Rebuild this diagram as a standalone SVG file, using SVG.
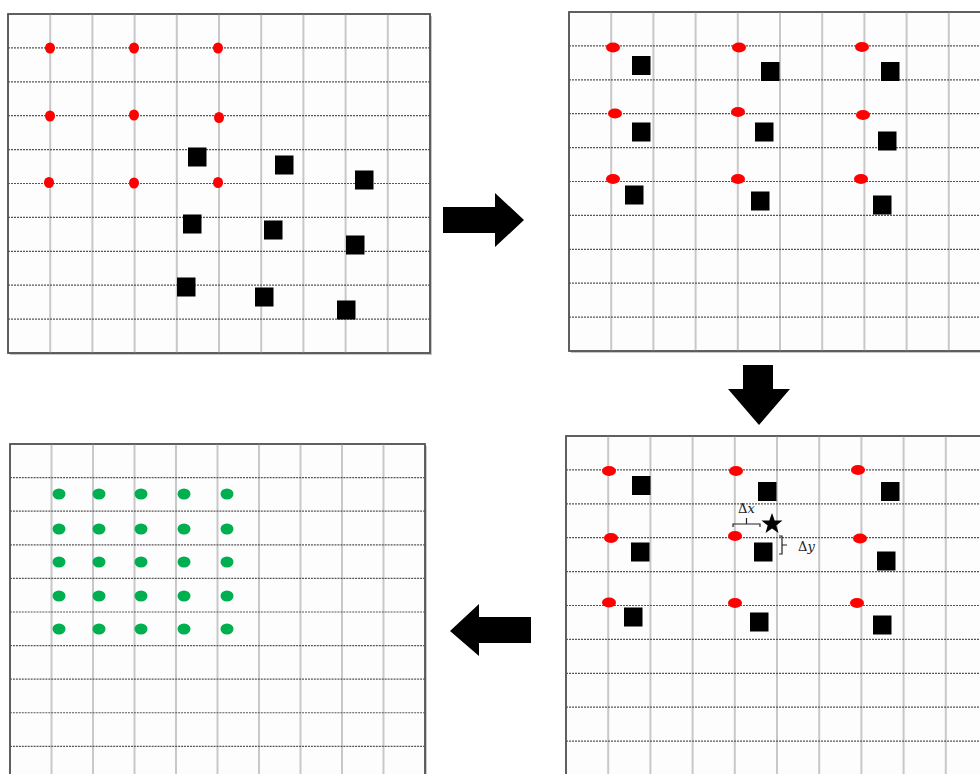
<svg xmlns="http://www.w3.org/2000/svg" xmlns:xlink="http://www.w3.org/1999/xlink" width="980" height="774" viewBox="0 0 980 774">
<style>
.frame{fill:#fdfdfd;stroke:#555;stroke-width:1.5}
.shadow{fill:#999;opacity:0.55}
.v{stroke:#c8c8c8;stroke-width:2}
.h{stroke:#555;stroke-width:1.2;stroke-dasharray:2 1}
.rd{fill:#ff0000}
.sq{fill:#000}
.gd{fill:#00b050}
.arrow{fill:#000}
.br{fill:none;stroke:#222;stroke-width:1.2}
.lbl{font-family:"DejaVu Serif","Liberation Serif",serif;font-size:13px;fill:#222}
</style>
<defs>
<g id="grid">
<rect class="shadow" x="2" y="2" width="422" height="339"/>
<rect class="frame" x="0" y="0" width="422" height="339"/>
<g class="v">
<line x1="42.2" y1="0" x2="42.2" y2="339"/><line x1="84.4" y1="0" x2="84.4" y2="339"/><line x1="126.6" y1="0" x2="126.6" y2="339"/><line x1="168.8" y1="0" x2="168.8" y2="339"/><line x1="211" y1="0" x2="211" y2="339"/><line x1="253.2" y1="0" x2="253.2" y2="339"/><line x1="295.4" y1="0" x2="295.4" y2="339"/><line x1="337.6" y1="0" x2="337.6" y2="339"/><line x1="379.8" y1="0" x2="379.8" y2="339"/>
</g>
<g class="h">
<line x1="0" y1="33.9" x2="422" y2="33.9"/><line x1="0" y1="67.8" x2="422" y2="67.8"/><line x1="0" y1="101.7" x2="422" y2="101.7"/><line x1="0" y1="135.6" x2="422" y2="135.6"/><line x1="0" y1="169.5" x2="422" y2="169.5"/><line x1="0" y1="203.4" x2="422" y2="203.4"/><line x1="0" y1="237.3" x2="422" y2="237.3"/><line x1="0" y1="271.2" x2="422" y2="271.2"/><line x1="0" y1="305.1" x2="422" y2="305.1"/>
</g>
<rect x="0" y="0" width="422" height="339" fill="none" stroke="#555" stroke-width="1.5"/>
</g>
</defs>

<g id="panel1">
<use xlink:href="#grid" transform="translate(8,14)"/>
<ellipse class="rd" cx="50" cy="48" rx="5" ry="5.5"/><ellipse class="rd" cx="134" cy="48" rx="5" ry="5.5"/><ellipse class="rd" cx="218" cy="48" rx="5" ry="5.5"/>
<ellipse class="rd" cx="50" cy="116" rx="5" ry="5.5"/><ellipse class="rd" cx="134" cy="115" rx="5" ry="5.5"/><ellipse class="rd" cx="219" cy="117.5" rx="5" ry="5.5"/>
<ellipse class="rd" cx="49" cy="182.5" rx="5" ry="5.5"/><ellipse class="rd" cx="134" cy="183" rx="5" ry="5.5"/><ellipse class="rd" cx="218" cy="182.5" rx="5" ry="5.5"/>
<rect class="sq" x="188" y="147.5" width="18.5" height="19"/>
<rect class="sq" x="275" y="155.5" width="18.5" height="19"/>
<rect class="sq" x="355" y="170.5" width="18.5" height="19"/>
<rect class="sq" x="183" y="214.5" width="18.5" height="19"/>
<rect class="sq" x="264" y="220.5" width="18.5" height="19"/>
<rect class="sq" x="346" y="235.5" width="18.5" height="19"/>
<rect class="sq" x="177" y="277.5" width="18.5" height="19"/>
<rect class="sq" x="255" y="287.5" width="18.5" height="19"/>
<rect class="sq" x="337" y="300.5" width="18.5" height="19"/>
</g>

<g id="panel2">
<use xlink:href="#grid" transform="translate(569,12)"/>
<ellipse class="rd" cx="613" cy="47.5" rx="7" ry="5"/><ellipse class="rd" cx="739" cy="47.5" rx="7" ry="5"/><ellipse class="rd" cx="862" cy="47" rx="7" ry="5"/>
<ellipse class="rd" cx="615" cy="113.5" rx="7" ry="5"/><ellipse class="rd" cx="738" cy="112" rx="7" ry="5"/><ellipse class="rd" cx="863" cy="115" rx="7" ry="5"/>
<ellipse class="rd" cx="613" cy="179" rx="7" ry="5"/><ellipse class="rd" cx="738" cy="179" rx="7" ry="5"/><ellipse class="rd" cx="861" cy="179" rx="7" ry="5"/>
<rect class="sq" x="632" y="56" width="18.5" height="19"/>
<rect class="sq" x="761" y="62" width="18.5" height="19"/>
<rect class="sq" x="881" y="62" width="18.5" height="19"/>
<rect class="sq" x="632" y="122.5" width="18.5" height="19"/>
<rect class="sq" x="755" y="122.5" width="18.5" height="19"/>
<rect class="sq" x="878" y="131.5" width="18.5" height="19"/>
<rect class="sq" x="625" y="185.5" width="18.5" height="19"/>
<rect class="sq" x="751" y="191.5" width="18.5" height="19"/>
<rect class="sq" x="873" y="195.5" width="18.5" height="19"/>
</g>

<g id="panel3">
<use xlink:href="#grid" transform="translate(566,436)"/>
<ellipse class="rd" cx="609" cy="471" rx="7" ry="5"/><ellipse class="rd" cx="736" cy="471" rx="7" ry="5"/><ellipse class="rd" cx="858" cy="470" rx="7" ry="5"/>
<ellipse class="rd" cx="611" cy="538" rx="7" ry="5"/><ellipse class="rd" cx="735" cy="536" rx="7" ry="5"/><ellipse class="rd" cx="860" cy="538.5" rx="7" ry="5"/>
<ellipse class="rd" cx="609" cy="602.5" rx="7" ry="5"/><ellipse class="rd" cx="735" cy="603" rx="7" ry="5"/><ellipse class="rd" cx="857" cy="603" rx="7" ry="5"/>
<rect class="sq" x="632" y="476" width="18.5" height="19"/>
<rect class="sq" x="758" y="482" width="18.5" height="19"/>
<rect class="sq" x="881" y="482" width="18.5" height="19"/>
<rect class="sq" x="631" y="542.5" width="18.5" height="19"/>
<rect class="sq" x="754" y="542.5" width="18.5" height="19"/>
<rect class="sq" x="877" y="551.5" width="18.5" height="19"/>
<rect class="sq" x="624" y="607.5" width="18.5" height="19"/>
<rect class="sq" x="750" y="612.5" width="18.5" height="19"/>
<rect class="sq" x="873" y="615.5" width="18.5" height="19"/>
<polygon class="sq" points="772,513 774.7,520.4 782.5,520.6 776.3,525.4 778.5,532.9 772,528.5 765.5,532.9 767.7,525.4 761.5,520.6 769.3,520.4"/>
<path class="br" d="M733,527 V524 H760 V527 M746.5,524 V518"/>
<text class="lbl" x="738" y="513">Δ<tspan font-style="italic">x</tspan></text>
<path class="br" d="M779,536 H782 V554 H779 M782,545 H787"/>
<text class="lbl" x="798" y="551">Δ<tspan font-style="italic">y</tspan></text>
</g>

<g id="panel4">
<use xlink:href="#grid" transform="translate(10,444) scale(0.9834,0.991)"/>
<g class="gd">
<ellipse cx="59" cy="494" rx="6.5" ry="5.5"/><ellipse cx="99" cy="494" rx="6.5" ry="5.5"/><ellipse cx="141" cy="494" rx="6.5" ry="5.5"/><ellipse cx="184" cy="494" rx="6.5" ry="5.5"/><ellipse cx="227" cy="494" rx="6.5" ry="5.5"/>
<ellipse cx="59" cy="529" rx="6.5" ry="5.5"/><ellipse cx="99" cy="529" rx="6.5" ry="5.5"/><ellipse cx="141" cy="529" rx="6.5" ry="5.5"/><ellipse cx="184" cy="529" rx="6.5" ry="5.5"/><ellipse cx="227" cy="529" rx="6.5" ry="5.5"/>
<ellipse cx="59" cy="562" rx="6.5" ry="5.5"/><ellipse cx="99" cy="562" rx="6.5" ry="5.5"/><ellipse cx="141" cy="562" rx="6.5" ry="5.5"/><ellipse cx="184" cy="562" rx="6.5" ry="5.5"/><ellipse cx="227" cy="562" rx="6.5" ry="5.5"/>
<ellipse cx="59" cy="596" rx="6.5" ry="5.5"/><ellipse cx="99" cy="596" rx="6.5" ry="5.5"/><ellipse cx="141" cy="596" rx="6.5" ry="5.5"/><ellipse cx="184" cy="596" rx="6.5" ry="5.5"/><ellipse cx="227" cy="596" rx="6.5" ry="5.5"/>
<ellipse cx="59" cy="629" rx="6.5" ry="5.5"/><ellipse cx="99" cy="629" rx="6.5" ry="5.5"/><ellipse cx="141" cy="629" rx="6.5" ry="5.5"/><ellipse cx="184" cy="629" rx="6.5" ry="5.5"/><ellipse cx="227" cy="629" rx="6.5" ry="5.5"/>
</g>
</g>

<g id="connectors">
<polygon class="arrow" points="443,207 495,207 495,193 524,220 495,247 495,233 443,233"/>
<polygon class="arrow" points="743,365 773,365 773,389 790,389 759,425 728,389 743,389"/>
<polygon class="arrow" points="531,617 479,617 479,604 450,631 479,656 479,643 531,643"/>
</g>
</svg>
